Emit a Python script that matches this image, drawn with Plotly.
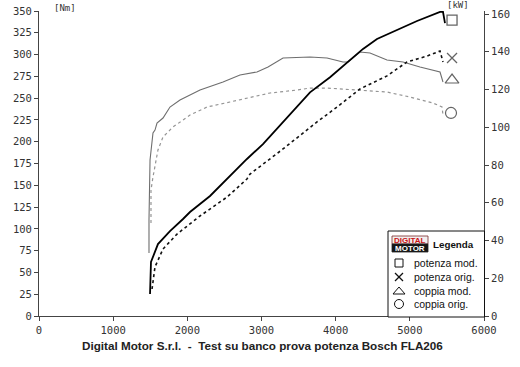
import plotly.graph_objects as go

# ---------------- data ----------------
pot_mod_rpm = [1497, 1510, 1604, 1766, 1942, 2036, 2306, 2535, 2804, 3020, 3209, 3290, 3560, 3654,
               3924, 4058, 4234, 4369, 4557, 4773, 5097, 5407, 5447, 5474]
pot_mod_kw = [11.7, 28.6, 38.1, 45.0, 51.4, 55.1, 63.6, 72.6, 83.2, 91.1, 99.1, 103.0, 114.5, 118.5,
              126.5, 131.0, 137.0, 141.5, 146.8, 150.5, 156.3, 161.1, 161.1, 155.2]

pot_orig_rpm = [1524, 1564, 1672, 1861, 2171, 2535, 2804, 2845, 3290, 3560, 3748, 4018, 4328,
                4692, 4962, 5231, 5407, 5447]
pot_orig_kw = [14.3, 26.0, 35.5, 43.4, 53.0, 63.0, 72.6, 75.2, 88.5, 97.0, 102.8, 110.7, 120.3,
               127.2, 134.6, 137.7, 140.4, 134.6]

cop_mod_rpm = [1483, 1483, 1497, 1537, 1564, 1591, 1672, 1766, 1901, 2171, 2481, 2710, 2939, 3088,
               3290, 3654, 3883, 4099, 4166, 4328, 4463, 4692, 4908, 5137, 5407, 5447]
cop_mod_nm = [72.3, 110.2, 179.0, 210.0, 213.4, 221.5, 227.2, 239.8, 247.9, 259.3, 268.5, 276.5,
              280.0, 285.7, 296.1, 297.2, 296.1, 291.5, 291.5, 302.9, 301.8, 293.8, 291.5, 285.7,
              280.0, 268.5]

cop_orig_rpm = [1510, 1510, 1537, 1604, 1672, 1807, 2036, 2265, 2575, 2804, 3115, 3479, 3654,
                3883, 4328, 4692, 5002, 5312, 5434, 5447]
cop_orig_nm = [106.7, 144.6, 159.5, 190.5, 205.4, 216.9, 230.6, 239.8, 245.6, 250.2, 255.9, 259.3,
               261.6, 261.6, 259.3, 257.0, 251.3, 244.4, 239.8, 230.6]

# end-of-curve label symbols
sym_rpm = [5569, 5569, 5569, 5555]
sym_val = [156.8, 136.7, 270.8, 233.0]
sym_names = ["potenza mod.", "potenza orig.", "coppia mod.", "coppia orig."]

x_ticks = [0, 1000, 2000, 3000, 4000, 5000, 6000]
nm_ticks = list(range(0, 351, 25))
kw_ticks = list(range(0, 161, 20))

title_text = "Digital Motor S.r.l.\u00a0\u00a0-\u00a0\u00a0Test su banco prova potenza Bosch FLA206"

# ---------------- figure ----------------
W, H = 520, 367
ML, MR, MT, MB = 39, 36, 11, 51
PW, PH = W - ML - MR, H - MT - MB


def px(x):
    return (x - ML) / PW


def py(y):
    return (H - MB - y) / PH


fig = go.Figure()

fig.add_trace(go.Scatter(x=cop_mod_rpm, y=cop_mod_nm, mode="lines", yaxis="y",
                         line=dict(color="#6e6e6e", width=1.1), showlegend=False))
fig.add_trace(go.Scatter(x=cop_orig_rpm, y=cop_orig_nm, mode="lines", yaxis="y",
                         line=dict(color="#959595", width=1.2, dash="dot"), showlegend=False))
fig.add_trace(go.Scatter(x=pot_mod_rpm, y=pot_mod_kw, mode="lines", yaxis="y2",
                         line=dict(color="#000000", width=1.8), showlegend=False))
fig.add_trace(go.Scatter(x=pot_orig_rpm, y=pot_orig_kw, mode="lines", yaxis="y2",
                         line=dict(color="#111111", width=1.6, dash="dot"), showlegend=False))

# symbols at curve ends
fig.add_trace(go.Scatter(x=sym_rpm[:2], y=sym_val[:2], mode="markers", yaxis="y2",
                         marker=dict(symbol=["square-open", "x-thin-open"], size=[10, 10],
                                     color="#222", line=dict(width=1.3, color="#222")),
                         showlegend=False))
fig.add_trace(go.Scatter(x=sym_rpm[2:], y=sym_val[2:], mode="markers", yaxis="y",
                         marker=dict(symbol=["triangle-up-open", "circle-open"], size=[12, 11],
                                     color="#222", line=dict(width=1.2, color="#222")),
                         showlegend=False))

tickfont = dict(family="DejaVu Sans Mono", size=10.5, color="#333333")
axis_common = dict(showgrid=False, zeroline=False, showline=True, linecolor="#444", linewidth=1,
                   ticks="outside", ticklen=4, tickcolor="#444", tickfont=tickfont,
                   automargin=False)

fig.update_layout(
    width=W, height=H,
    margin=dict(l=ML, r=MR, t=MT, b=MB, pad=0, autoexpand=False),
    paper_bgcolor="white", plot_bgcolor="white",
    showlegend=False,
    xaxis=dict(range=[0, 6000], tickvals=x_ticks, **axis_common),
    yaxis=dict(range=[0, 350], tickvals=nm_ticks, **axis_common),
    yaxis2=dict(range=[0, 161.6], tickvals=kw_ticks, overlaying="y", side="right", anchor="x",
                **axis_common),
)

shapes = []
annotations = []


def note(text, x, y, size, family="Liberation Sans", color="#111", xanchor="center"):
    annotations.append(dict(text=text, x=px(x), y=py(y), xref="paper", yref="paper",
                            xanchor=xanchor, yanchor="middle", showarrow=False,
                            font=dict(family=family, size=size, color=color)))


# unit labels
note("[Nm]", 65, 8, 9, family="DejaVu Sans Mono", color="#333")
note("[kW]", 458, 5, 9, family="DejaVu Sans Mono", color="#333")

# title
note("<b>" + title_text + "</b>", 262, 345, 11.7, color="#222")

# legend box
shapes.append(dict(type="rect", xref="paper", yref="paper", x0=px(388), x1=px(484.5),
                   y0=py(317), y1=py(231), line=dict(color="#111", width=1), fillcolor="white",
                   layer="above"))
# logo
shapes.append(dict(type="rect", xref="paper", yref="paper", x0=px(392), x1=px(428),
                   y0=py(244), y1=py(236), line=dict(color="#7a2a2a", width=0.8),
                   fillcolor="#f2eeee", layer="above"))
shapes.append(dict(type="rect", xref="paper", yref="paper", x0=px(392), x1=px(428),
                   y0=py(252), y1=py(244), line=dict(color="#222", width=0.8),
                   fillcolor="#151515", layer="above"))
note("<b>DIGITAL</b>", 410, 240.3, 8, color="#c81414")
note("<b>MOTOR</b>", 410, 248.3, 8, color="white")
note("<b>Legenda</b>", 453.5, 244, 9.8)

row_y = [263, 277, 290.5, 304]
for name, ry in zip(sym_names, row_y):
    note(name, 412, ry, 10.5, xanchor="left")

# legend symbols
sx = 399
r0 = row_y[0]
shapes.append(dict(type="rect", xref="paper", yref="paper", x0=px(sx - 4), x1=px(sx + 4),
                   y0=py(r0 + 4), y1=py(r0 - 4), line=dict(color="#111", width=1), layer="above"))
r1 = row_y[1]
shapes.append(dict(type="line", xref="paper", yref="paper", x0=px(sx - 4), x1=px(sx + 4),
                   y0=py(r1 + 4), y1=py(r1 - 4), line=dict(color="#111", width=1.2), layer="above"))
shapes.append(dict(type="line", xref="paper", yref="paper", x0=px(sx - 4), x1=px(sx + 4),
                   y0=py(r1 - 4), y1=py(r1 + 4), line=dict(color="#111", width=1.2), layer="above"))
r2 = row_y[2]
shapes.append(dict(type="path", xref="paper", yref="paper",
                   path=f"M {px(sx-6)},{py(r2+3.5)} L {px(sx+6)},{py(r2+3.5)} L {px(sx)},{py(r2-3.5)} Z",
                   line=dict(color="#111", width=1), layer="above"))
r3 = row_y[3]
shapes.append(dict(type="circle", xref="paper", yref="paper", x0=px(sx - 4.5), x1=px(sx + 4.5),
                   y0=py(r3 + 4.5), y1=py(r3 - 4.5), line=dict(color="#111", width=1), layer="above"))

fig.update_layout(shapes=shapes, annotations=annotations)

fig.write_html("out.html")
